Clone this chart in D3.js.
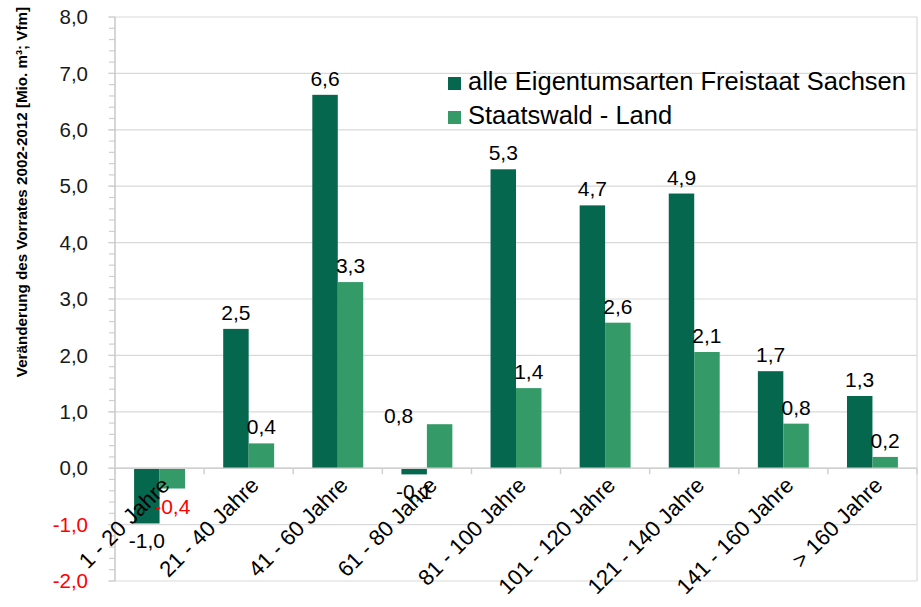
<!DOCTYPE html>
<html>
<head>
<meta charset="utf-8">
<script src="https://cdn.jsdelivr.net/npm/d3@7"></script>
<style>
  body { margin: 0; background: #fff; }
  text { font-family: "Liberation Sans", Arial, sans-serif; }
</style>
</head>
<body>
<div id="container"></div>
<script>
/* DATA */
const categories = ["1 - 20 Jahre", "21 - 40 Jahre", "41 - 60 Jahre", "61 - 80 Jahre",
  "81 - 100 Jahre", "101 - 120 Jahre", "121 - 140 Jahre", "141 - 160 Jahre", "> 160 Jahre"];
const seriesNames = ["alle Eigentumsarten Freistaat Sachsen", "Staatswald - Land"];
const alleEigentum = [-0.98, 2.47, 6.62, -0.11, 5.3, 4.66, 4.87, 1.72, 1.28];
const staatswald = [-0.36, 0.44, 3.3, 0.78, 1.42, 2.58, 2.06, 0.79, 0.2];
const yTicks = [-2, -1, 0, 1, 2, 3, 4, 5, 6, 7, 8];
const yTitle = "Veränderung des Vorrates 2002-2012  [Mio. m³; Vfm]";

/* CONSTANTS */
const width = 921, height = 607;
const margin = {top: 17, right: 4, bottom: 26, left: 115};
const colors = ["#05674d", "#349a68"];
const fmt = v => d3.format(".1f")(v).replace(".", ",").replace("−", "-");

const svg = d3.select("#container").append("svg")
  .attr("width", width).attr("height", height);

const plotW = width - margin.left - margin.right,
      plotH = height - margin.top - margin.bottom;

const g = svg.append("g")
  .attr("transform", "translate(" + margin.left + "," + margin.top + ")");

const x = d3.scaleBand().domain(categories).range([0, plotW]);
const xInner = d3.scaleBand().domain([0, 1]).range([0, x.bandwidth()]).paddingOuter(0.75).paddingInner(0);
const y = d3.scaleLinear().domain([-2, 8]).range([plotH, 0]);

// gridlines
g.append("g").selectAll("line").data(yTicks).enter().append("line")
  .attr("x1", -7).attr("x2", plotW)
  .attr("y1", d => y(d)).attr("y2", d => y(d))
  .attr("stroke", "#d9d9d9").attr("stroke-width", 1.2);

// minor ticks
g.append("g").selectAll("line").data(d3.range(-2, 8.01, 0.2)).enter().append("line")
  .attr("x1", -6).attr("x2", 0)
  .attr("y1", d => y(d)).attr("y2", d => y(d))
  .attr("stroke", "#d0d0d0").attr("stroke-width", 1.2);

// plot border
g.append("line").attr("x1", 0).attr("x2", 0).attr("y1", 0).attr("y2", plotH)
  .attr("stroke", "#c8c8c8").attr("stroke-width", 1.5);
g.append("line").attr("x1", plotW).attr("x2", plotW).attr("y1", 0).attr("y2", plotH)
  .attr("stroke", "#d9d9d9").attr("stroke-width", 1.2);

// y tick labels
g.append("g").selectAll("text").data(yTicks).enter().append("text")
  .attr("x", -27).attr("y", d => y(d)).attr("dy", "0.35em")
  .attr("text-anchor", "end").attr("font-size", 20.5)
  .attr("fill", d => d < 0 ? "#ff0000" : "#1a1a1a")
  .text(d => fmt(d));

// bars
const series = [alleEigentum, staatswald];
series.forEach((vals, si) => {
  g.append("g").selectAll("rect").data(vals).enter().append("rect")
    .attr("x", (d, i) => x(categories[i]) + xInner(si))
    .attr("width", xInner.bandwidth())
    .attr("y", d => y(Math.max(0, d)))
    .attr("height", d => Math.abs(y(d) - y(0)))
    .attr("fill", colors[si]);
});

// zero axis with category ticks
g.append("line").attr("x1", 0).attr("x2", plotW).attr("y1", y(0)).attr("y2", y(0))
  .attr("stroke", "#d0d0d0").attr("stroke-width", 1.5);
g.append("g").selectAll("line").data(d3.range(categories.length + 1)).enter().append("line")
  .attr("x1", i => i * x.step()).attr("x2", i => i * x.step())
  .attr("y1", y(0)).attr("y2", y(0) + 6)
  .attr("stroke", "#d0d0d0").attr("stroke-width", 1.5);

// value labels (one label shifted left as in the original, to avoid overlap)
const labelShift = {"1-3": {dx: -41, dy: 8}};
series.forEach((vals, si) => {
  g.append("g").selectAll("text").data(vals).enter().append("text")
    .attr("x", (d, i) => x(categories[i]) + xInner(si) + xInner.bandwidth() / 2 + ((labelShift[si + "-" + i] || {}).dx || 0))
    .attr("y", (d, i) => (d >= 0 ? y(d) - 9 : y(d) + 25) + ((labelShift[si + "-" + i] || {}).dy || 0))
    .attr("text-anchor", "middle").attr("font-size", 21)
    .attr("fill", d => (si === 1 && d < 0) ? "#ff0000" : "#000")
    .text(d => fmt(d));
});

// category labels
g.append("g").selectAll("text").data(categories).enter().append("text")
  .attr("transform", d => "translate(" + (x(d) + x.bandwidth() / 2 + 6) + "," + (y(0) + 13) + ") rotate(-45)")
  .attr("text-anchor", "end").attr("dy", "0.35em").attr("font-size", 22)
  .attr("fill", "#000")
  .text(d => d);

// legend
const legend = svg.append("g").attr("transform", "translate(448,77)");
seriesNames.forEach((name, i) => {
  legend.append("rect").attr("x", 0).attr("y", i * 34).attr("width", 13).attr("height", 13)
    .attr("fill", colors[i]);
  legend.append("text").attr("x", 20).attr("y", i * 34 + 13)
    .attr("font-size", 25.5).attr("fill", "#000").text(name);
});

// y title
svg.append("text")
  .attr("transform", "translate(27,192) rotate(-90)")
  .attr("text-anchor", "middle").attr("font-size", 15.2).attr("font-weight", "bold")
  .attr("fill", "#000").text(yTitle);
</script>
</body>
</html>
